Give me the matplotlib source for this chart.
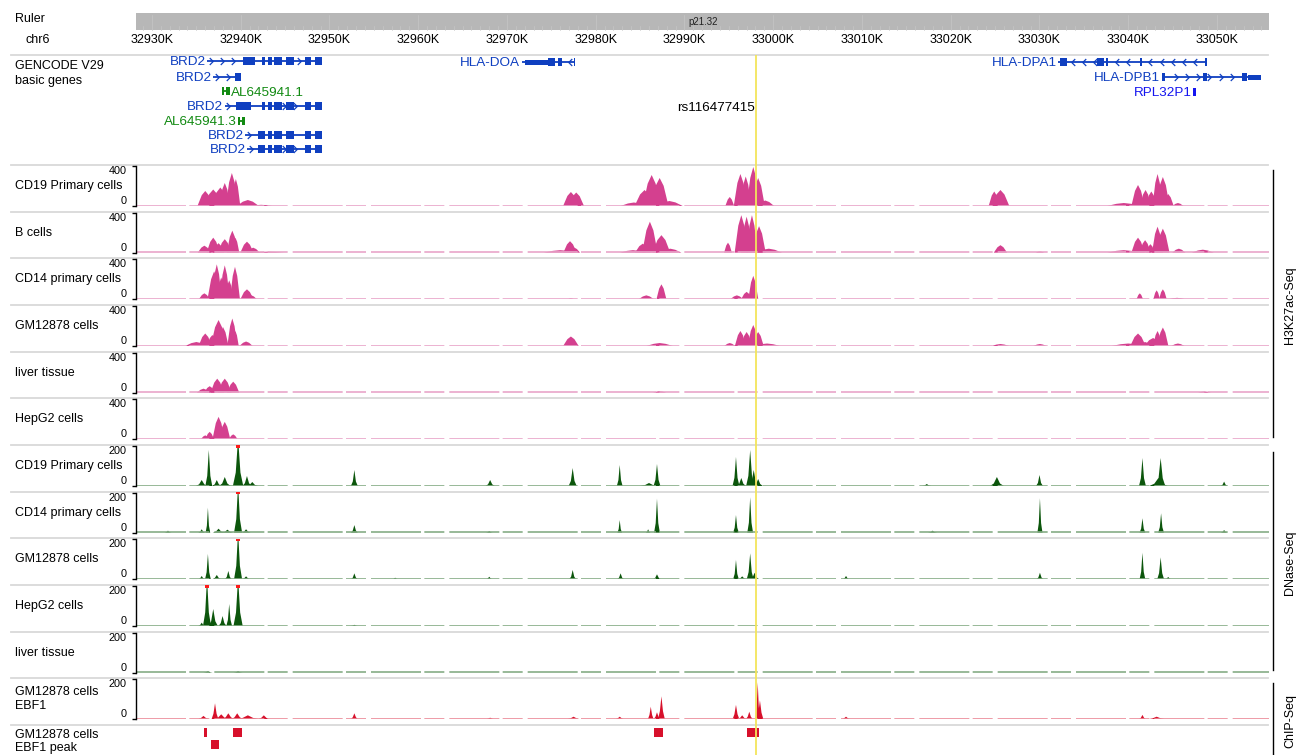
import numpy as np
import matplotlib
matplotlib.use("Agg")
import matplotlib.pyplot as plt
from matplotlib.path import Path
from matplotlib.patches import Rectangle

plt.rcParams['font.family'] = ['Liberation Sans', 'DejaVu Sans']

# ---- data (positions in kb on chr6) ----
ruler_ticks = [32930, 32940, 32950, 32960, 32970, 32980, 32990,
               33000, 33010, 33020, 33030, 33040, 33050]
snp_name = "rs116477415"
snp_pos = 32998.1

# genes: label, row y (px), start, end, exons, strand, colour, label side
brd2_core = [(32942.35, 32942.75), (32943.05, 32943.5), (32943.75, 32944.65),
             (32945.15, 32945.95), (32947.25, 32947.9), (32948.35, 32949.2)]
genes = [
    ("BRD2", 61, 32936.2, 32949.2, [(32940.25, 32941.6)] + brd2_core, "+", "blue", "left"),
    ("BRD2", 77, 32936.9, 32940.0, [(32939.35, 32940.0)], "+", "blue", "left"),
    ("AL645941.1", 91, 32937.85, 32938.8, [(32937.85, 32938.1), (32938.3, 32938.8)], "-", "green", "right"),
    ("BRD2", 106, 32938.2, 32949.2, [(32939.5, 32941.2)] + brd2_core, "+", "blue", "left"),
    ("AL645941.3", 121, 32939.7, 32940.5, [(32939.7, 32939.95), (32940.15, 32940.5)], "-", "green", "left"),
    ("BRD2", 135, 32940.5, 32949.2, [(32942.0, 32942.4)] + brd2_core, "+", "blue", "left"),
    ("BRD2", 149, 32940.7, 32949.2, [(32941.9, 32942.7)] + brd2_core, "+", "blue", "left"),
    ("HLA-DOA", 62, 32971.65, 32977.65, [(32972.0, 32974.65), (32974.65, 32975.4),
                                         (32975.8, 32976.15), (32977.5, 32977.65)], "-", "blue", "left"),
    ("HLA-DPA1", 62, 33032.1, 33048.85, [(33032.3, 33033.05), (33036.45, 33037.25),
                                         (33037.5, 33037.75), (33041.3, 33041.6),
                                         (33048.65, 33048.85)], "-", "blue", "left"),
    ("HLA-DPB1", 77, 33043.75, 33055.0, [(33043.75, 33044.1), (33048.45, 33048.85),
                                         (33052.8, 33053.35), (33053.5, 33055.0)], "+", "blue", "left"),
    ("RPL32P1", 92, 33047.35, 33047.6, [(33047.35, 33047.6)], "+", "bright", "left"),
]

# signal peaks: (centre kb, height, half width kb)
h3_cd19 = [(32936.0, 150, 0.7), (32936.9, 165, 0.8), (32937.7, 185, 0.8), (32938.2, 230, 0.5),
           (32939.0, 330, 0.55), (32939.45, 270, 0.4), (32940.8, 60, 1.0), (32942.3, 12, 1.0),
           (32977.2, 140, 0.7), (32977.8, 135, 0.7),
           (32984.3, 35, 1.2), (32985.5, 160, 0.9), (32986.3, 310, 0.8), (32987.2, 280, 0.8), (32988.3, 50, 1.2),
           (32995.1, 90, 0.4), (32996.3, 320, 0.6), (32996.9, 295, 0.5), (32997.75, 390, 0.6),
           (32998.3, 280, 0.6), (32999.1, 55, 0.8),
           (33024.9, 145, 0.5), (33025.6, 160, 0.8),
           (33039.5, 30, 1.5), (33041.1, 210, 0.6), (33041.95, 160, 0.5), (33042.6, 145, 0.5),
           (33043.3, 320, 0.45), (33043.9, 290, 0.6), (33044.5, 120, 0.5), (33045.6, 30, 0.5)]
h3_bcell = [(32935.9, 70, 0.6), (32936.9, 150, 0.6), (32937.5, 95, 0.5), (32938.2, 135, 0.6),
            (32939.05, 220, 0.5), (32939.4, 150, 0.35), (32940.7, 110, 0.6), (32941.4, 50, 0.6), (32943.0, 10, 1.5),
            (32976.0, 25, 1.5), (32977.1, 115, 0.6), (32977.6, 50, 0.5),
            (32984.2, 25, 1.2), (32985.3, 90, 0.7), (32986.1, 310, 0.7), (32987.4, 175, 0.8), (32988.4, 40, 1.0),
            (32994.9, 100, 0.35), (32996.4, 375, 0.6), (32997.0, 360, 0.5), (32997.6, 375, 0.5),
            (32998.4, 265, 0.6), (32999.5, 40, 1.2),
            (33025.6, 75, 0.6), (33030.05, 12, 0.4),
            (33039.5, 25, 1.5), (33041.1, 150, 0.6), (33041.9, 125, 0.5), (33042.5, 85, 0.4),
            (33043.3, 260, 0.5), (33043.9, 240, 0.6), (33045.7, 40, 0.6), (33048.4, 30, 1.0)]
h3_cd14 = [(32935.9, 60, 0.5), (32937.0, 280, 0.6), (32937.3, 350, 0.45), (32937.8, 220, 0.4),
           (32938.2, 340, 0.45), (32938.7, 190, 0.4), (32939.35, 325, 0.45), (32940.7, 100, 0.6), (32941.2, 40, 0.5),
           (32977.2, 10, 0.3), (32985.7, 40, 0.7), (32987.4, 150, 0.45),
           (32995.9, 40, 0.6), (32997.0, 75, 0.5), (32997.75, 235, 0.45),
           (33041.3, 60, 0.3), (33043.2, 90, 0.3), (33043.9, 100, 0.35), (33045.5, 15, 0.8)]
h3_gm = [(32935.0, 40, 1.0), (32936.0, 125, 0.6), (32936.8, 110, 0.5), (32937.5, 260, 0.7),
         (32938.0, 190, 0.5), (32939.05, 275, 0.45), (32939.4, 150, 0.3), (32940.6, 45, 0.6),
         (32977.2, 95, 0.7), (32987.2, 30, 1.2),
         (32995.1, 30, 0.5), (32996.3, 150, 0.5), (32997.0, 140, 0.5), (32997.75, 210, 0.5),
         (32998.3, 140, 0.5), (32999.3, 25, 1.2),
         (33025.6, 20, 0.8), (33030.05, 20, 0.6),
         (33040.0, 25, 1.5), (33041.1, 125, 0.7), (33041.9, 40, 0.6), (33042.8, 80, 0.8),
         (33043.3, 150, 0.4), (33043.9, 185, 0.5), (33045.6, 25, 0.6)]
h3_liver = [(32935.8, 40, 0.6), (32936.5, 65, 0.5), (32937.35, 140, 0.6), (32938.2, 140, 0.6),
            (32939.15, 110, 0.55), (32987.2, 15, 0.6), (33048.6, 12, 0.6)]
h3_hepg2 = [(32936.0, 40, 0.4), (32936.5, 75, 0.4), (32937.5, 225, 0.55), (32938.2, 175, 0.5),
            (32939.15, 50, 0.4)]

dn_cd19 = [(32935.6, 30, 0.5), (32936.4, 180, 0.3), (32937.3, 30, 0.4), (32938.2, 45, 0.5),
           (32939.7, 240, 0.45), (32940.7, 50, 0.4), (32941.3, 20, 0.5), (32952.8, 80, 0.3),
           (32968.1, 30, 0.4), (32977.4, 90, 0.35), (32982.7, 105, 0.25), (32986.0, 15, 0.8), (32986.9, 110, 0.3),
           (32995.8, 145, 0.3), (32996.4, 40, 0.4), (32997.4, 180, 0.35), (32997.8, 80, 0.4),
           (32998.3, 35, 0.4), (33017.3, 10, 0.4),
           (33025.2, 45, 0.6), (33030.0, 55, 0.3), (33041.6, 140, 0.3), (33043.65, 140, 0.4),
           (33043.4, 40, 0.8), (33050.8, 22, 0.3)]
dn_cd14 = [(32931.8, 10, 0.3), (32935.6, 17, 0.3), (32936.3, 125, 0.2), (32937.5, 20, 0.5),
           (32938.5, 15, 0.5), (32939.7, 240, 0.35), (32940.6, 17, 0.4), (32952.8, 38, 0.3),
           (32968.0, 8, 0.3), (32982.7, 63, 0.2), (32985.9, 17, 0.2), (32986.9, 170, 0.25),
           (32995.8, 88, 0.25), (32997.4, 177, 0.25),
           (33017.95, 10, 0.4), (33030.05, 172, 0.22), (33041.6, 72, 0.25), (33043.7, 97, 0.25), (33050.8, 13, 0.3)]
dn_gm = [(32935.6, 17, 0.3), (32936.3, 127, 0.25), (32937.3, 22, 0.4), (32938.6, 42, 0.3),
         (32939.7, 240, 0.35), (32940.6, 15, 0.4), (32952.8, 30, 0.3), (32957.4, 8, 0.3),
         (32968.0, 13, 0.3), (32977.4, 47, 0.3), (32982.8, 30, 0.3), (32986.9, 25, 0.35),
         (32995.8, 97, 0.25), (32996.5, 15, 0.4), (32997.4, 130, 0.3), (32997.9, 33, 0.4), (33008.2, 17, 0.3),
         (33030.05, 33, 0.3), (33041.6, 133, 0.25), (33043.65, 110, 0.3), (33044.5, 12, 0.3)]
dn_hepg2 = [(32935.6, 17, 0.3), (32936.2, 240, 0.35), (32936.9, 85, 0.4), (32937.95, 50, 0.35),
            (32938.7, 110, 0.25), (32939.7, 240, 0.4), (32952.8, 6, 0.3)]
dn_liver = [(32936.3, 8, 0.4), (32939.7, 8, 0.4)]

chip_ebf1 = [(32935.8, 17, 0.5), (32937.1, 80, 0.3), (32937.8, 25, 0.6), (32938.6, 30, 0.5),
             (32939.6, 30, 0.5), (32940.8, 20, 1.0), (32942.6, 20, 0.5), (32952.8, 30, 0.3),
             (32968.1, 8, 0.4), (32977.5, 13, 0.6), (32982.7, 13, 0.4),
             (32986.2, 63, 0.25), (32986.9, 35, 0.3), (32987.4, 115, 0.3),
             (32995.8, 72, 0.3), (32996.5, 20, 0.4), (32997.3, 38, 0.3), (32998.25, 185, 0.2),
             (32998.5, 95, 0.3), (33008.2, 13, 0.4),
             (33041.6, 22, 0.3), (33043.2, 13, 0.8)]
# called peaks: (start, end, row)
ebf1_peaks = [(32935.9, 32936.2, 0), (32936.7, 32937.55, 1), (32939.15, 32940.1, 0),
              (32986.6, 32987.6, 0), (32997.0, 32998.4, 0)]

# ---- styles ----
PINK = '#d4408f'
GREEN = '#0c560c'
RED = '#d7102b'
GENE_COL = {"blue": '#0f3fc0', "green": '#128a12', "bright": '#1515f0'}
SEP = '#d9d9d9'

W, H = 1301, 755
fig = plt.figure(figsize=(W / 100, H / 100), dpi=100)


def px_axes(x0, y0, x1, y1):
    return fig.add_axes([x0 / W, 1 - y1 / H, (x1 - x0) / W, (y1 - y0) / H])


def kb_at(px):
    return 32930 + (px - 152) / 8.875


XL, XR = 136, 1269
KB_LIM = (kb_at(XL), kb_at(XR))

bg = px_axes(0, 0, W, H)
bg.set_xlim(0, W)
bg.set_ylim(H, 0)
bg.axis('off')

# ruler
ax_r = px_axes(XL, 10, XR, 50)
ax_r.set_xlim(*KB_LIM)
ax_r.set_ylim(50, 10)
ax_r.axis('off')
ax_r.add_patch(Rectangle((KB_LIM[0], 13), KB_LIM[1] - KB_LIM[0], 17, color='#b7b7b7', lw=0))
for t in np.arange(32929, 33056, 1.0):
    ax_r.plot([t, t], [26, 30] if t % 10 else [15, 30], color='#c6c6c6', lw=0.5)
ax_r.text(kb_at(703), 22, "p21.32", fontsize=7, ha='center', va='center', color='#222222')
for t in ruler_ticks:
    ax_r.text(t, 40, f"{t}K", fontsize=9, ha='center', va='center')
bg.text(15, 19, "Ruler", fontsize=9, va='center')
bg.text(26, 40, "chr6", fontsize=9, va='center')

# separators
seps = [55, 165] + [165 + i * 46.67 for i in range(1, 13)]
for s in seps:
    bg.plot([11, 1268], [s, s], color=SEP, lw=1.3)

# gene track
bg.text(15, 66, "GENCODE V29", fontsize=9, va='center')
bg.text(15, 81, "basic genes", fontsize=9, va='center')
ax_g = px_axes(XL, 56, XR, 164)
ax_g.set_xlim(*KB_LIM)
ax_g.set_ylim(164, 56)
ax_g.axis('off')
chev_r = Path([(-0.5, 1), (0.5, 0), (-0.5, -1)], [Path.MOVETO, Path.LINETO, Path.LINETO])
chev_l = Path([(0.5, 1), (-0.5, 0), (0.5, -1)], [Path.MOVETO, Path.LINETO, Path.LINETO])
for name, y, start, end, exons, strand, col, side in genes:
    c = GENE_COL[col]
    if end - start > 0.5:
        ax_g.plot([start, end], [y, y], color=c, lw=1.3, solid_capstyle='butt')
        arrows = [a for a in np.arange(start + 0.4, end - 0.2, 1.25)
                  if not any(e0 - 0.15 < a < e1 + 0.15 for e0, e1 in exons)]
        ax_g.plot(arrows, [y] * len(arrows), linestyle='none',
                  marker=chev_r if strand == "+" else chev_l, ms=5,
                  mfc='none', mec=c, mew=0.9)
    for e0, e1 in exons:
        hgt = 5 if (name == "HLA-DOA" and e1 - e0 > 2) or (name == "HLA-DPB1" and e1 - e0 > 1) else 8
        ax_g.add_patch(Rectangle((e0, y - hgt / 2), max(e1 - e0, 0.18), hgt, color=c, lw=0))
    if side == "left":
        ax_g.text(start - 0.15, y + 1, name, color=c, fontsize=9.7, ha='right', va='center')
    else:
        ax_g.text(end + 0.05, y + 2, name, color=c, fontsize=9.7, ha='left', va='center')
bg.text(755, 108, snp_name, fontsize=9.7, ha='right', va='center')


def draw_signal(s, label_lines, peaks, ymax, color, base_col, shoulder, wscale):
    ax = px_axes(XL, s + 1, XR, s + 41)
    ax.set_xlim(*KB_LIM)
    ax.set_ylim(0, ymax)
    ax.plot(KB_LIM, [ymax * 0.012] * 2, color=base_col, lw=1.2, dashes=(30, 2, 12, 3))
    for c, h, w in peaks:
        w = w * wscale
        ax.fill([c - w, c - 0.45 * w, c, c + 0.45 * w, c + w],
                [0, shoulder * h, h, shoulder * h, 0], color=color, lw=0)
        if h > ymax:
            ax.add_patch(Rectangle((c - 0.18, ymax * 0.955), 0.36, ymax * 0.06,
                                   color='#ff1a1a', lw=0, clip_on=False, zorder=5))
    for sp in ['top', 'right', 'bottom']:
        ax.spines[sp].set_visible(False)
    ax.spines['left'].set_linewidth(1.0)
    ax.set_xticks([])
    ax.set_yticks([0, ymax])
    ax.set_yticklabels(["0", str(ymax)], fontsize=7.8)
    ax.tick_params(axis='y', length=3, width=1.0, pad=4)
    lab = ax.get_yticklabels()
    lab[0].set_va('bottom')
    lab[1].set_va('top')
    ax.patch.set_alpha(0)
    if len(label_lines) == 1:
        bg.text(15, s + 21, label_lines[0], fontsize=9, va='center')
    else:
        bg.text(15, s + 14, label_lines[0], fontsize=9, va='center')
        bg.text(15, s + 28, label_lines[1], fontsize=9, va='center')
    return ax


h3_tracks = [("CD19 Primary cells", h3_cd19), ("B cells", h3_bcell), ("CD14 primary cells", h3_cd14),
             ("GM12878 cells", h3_gm), ("liver tissue", h3_liver), ("HepG2 cells", h3_hepg2)]
dn_tracks = [("CD19 Primary cells", dn_cd19), ("CD14 primary cells", dn_cd14), ("GM12878 cells", dn_gm),
             ("HepG2 cells", dn_hepg2), ("liver tissue", dn_liver)]

for i, (lab, pk) in enumerate(h3_tracks):
    draw_signal(165 + i * 46.67, [lab], pk, 400, PINK, '#e9a6c9', 0.72, 1.25)
for i, (lab, pk) in enumerate(dn_tracks):
    draw_signal(445 + i * 46.67, [lab], pk, 200, GREEN, '#86ad86', 0.28, 1.3)
draw_signal(678.3, ["GM12878 cells", "EBF1"], chip_ebf1, 200, RED, '#eb8a98', 0.35, 1.3)

# peak track
ax_p = px_axes(XL, 726, XR, 755)
ax_p.set_xlim(*KB_LIM)
ax_p.set_ylim(29, 0)
ax_p.axis('off')
for a, b, row in ebf1_peaks:
    ax_p.add_patch(Rectangle((a, 1.5 + row * 12), b - a, 9, color=RED, lw=0))
bg.text(15, 734.5, "GM12878 cells", fontsize=9, va='center')
bg.text(15, 748.5, "EBF1 peak", fontsize=9, va='center')

# group labels on the right
for y0, y1, name in [(170, 437, "H3K27ac-Seq"), (452, 670, "DNase-Seq"), (683, 755, "ChIP-Seq")]:
    bg.plot([1273, 1273], [y0, y1], color='black', lw=1.0)
    bg.text(1290, (y0 + y1) / 2 + 2, name, fontsize=9, rotation=90, ha='center', va='center')

# SNP highlight line
ax_y = px_axes(XL, 55, XR, H)
ax_y.set_xlim(*KB_LIM)
ax_y.set_ylim(0, 1)
ax_y.axis('off')
ax_y.axvline(snp_pos, color='#f3e55c', lw=1.3)

fig.savefig("out.png", dpi=100)
